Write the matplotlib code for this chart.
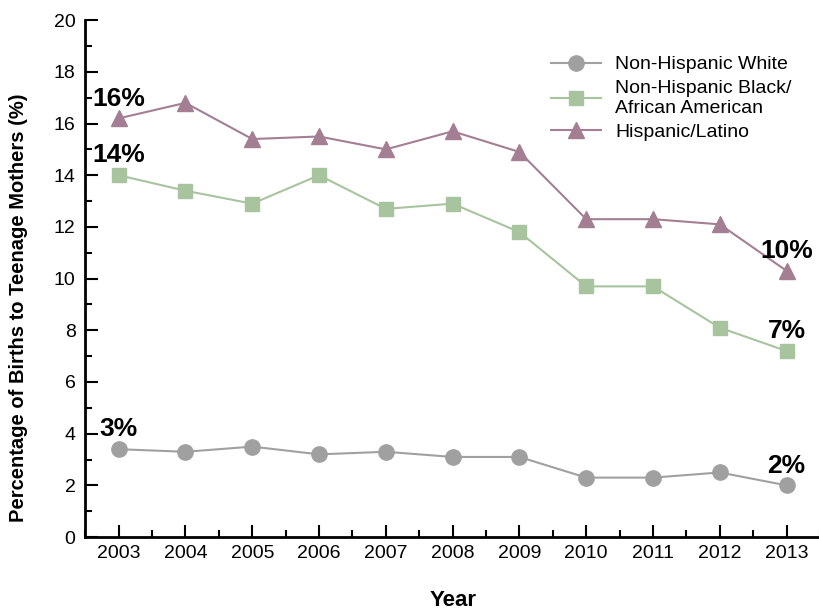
import matplotlib.pyplot as plt
from matplotlib.ticker import MultipleLocator

plt.rcParams['font.family'] = ['Liberation Sans', 'DejaVu Sans']

years = [2003, 2004, 2005, 2006, 2007, 2008, 2009, 2010, 2011, 2012, 2013]
white = [3.4, 3.3, 3.5, 3.2, 3.3, 3.1, 3.1, 2.3, 2.3, 2.5, 2.0]
black = [14.0, 13.4, 12.9, 14.0, 12.7, 12.9, 11.8, 9.7, 9.7, 8.1, 7.2]
hispanic = [16.2, 16.8, 15.4, 15.5, 15.0, 15.7, 14.9, 12.3, 12.3, 12.1, 10.3]

# end labels: (x, y, text)
labels = [(2003, 16.2, '16%'), (2003, 14.0, '14%'), (2003, 3.4, '3%'),
          (2013, 10.3, '10%'), (2013, 7.2, '7%'), (2013, 2.0, '2%')]

fig = plt.figure(figsize=(8.2, 6.11), dpi=100)
ax = fig.add_axes([0.104, 0.121, 0.896, 0.846])

ax.plot(years, white, color='#a0a0a0', marker='o', markersize=11, lw=1.5,
        label='Non-Hispanic White')
ax.plot(years, black, color='#a8c49f', marker='s', markersize=10, lw=1.5,
        label='Non-Hispanic Black/\nAfrican American')
ax.plot(years, hispanic, color='#a47f93', marker='^', markersize=11, lw=1.5,
        label='Hispanic/Latino')

for x, y, t in labels:
    ax.text(x, y + 0.3, t, ha='center', va='bottom', fontsize=19, fontweight='bold')

ax.set_xlim(2002.5, 2013.5)
ax.set_ylim(0, 20)
ax.set_xticks(years)
ax.xaxis.set_minor_locator(MultipleLocator(0.5))
ax.yaxis.set_major_locator(MultipleLocator(2))
ax.yaxis.set_minor_locator(MultipleLocator(1))
ax.tick_params(which='both', direction='in', labelsize=14, width=1.5)
ax.tick_params(which='major', length=9)
ax.tick_params(which='minor', length=5)
ax.tick_params(axis='x', pad=6)
ax.tick_params(axis='y', pad=7)

for s in ['top', 'right']:
    ax.spines[s].set_visible(False)
for s in ['left', 'bottom']:
    ax.spines[s].set_linewidth(2)

ax.set_xlabel('Year', fontsize=16, fontweight='bold', va='center')
ax.xaxis.set_label_coords(0.5, -0.122)
ax.set_ylabel('Percentage of Births to Teenage Mothers (%)', fontsize=14.5,
              fontweight='bold', va='center')
ax.yaxis.set_label_coords(-0.091, 0.443)

ax.legend(loc='upper right', bbox_to_anchor=(0.985, 0.965), frameon=False,
          fontsize=14, handlelength=2.6, labelspacing=0.35, handletextpad=0.7)

fig.savefig('out.png', dpi=100)
